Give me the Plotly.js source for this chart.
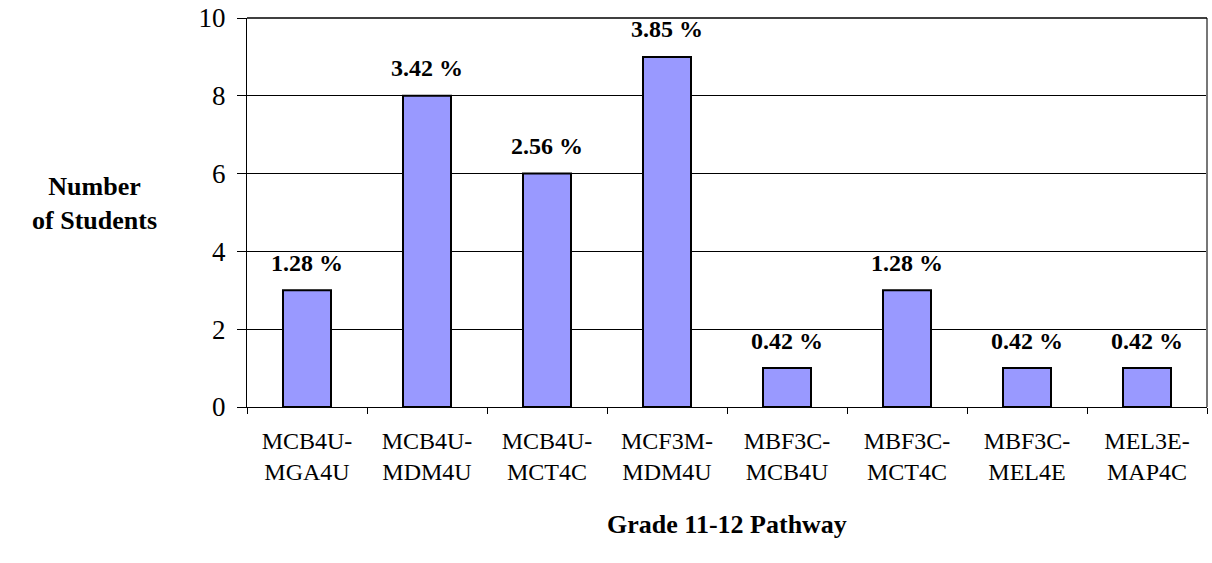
<!DOCTYPE html>
<html>
<head>
<meta charset="utf-8">
<script src="https://cdn.plot.ly/plotly-3.0.1.min.js"></script>
<style>
html,body{margin:0;padding:0;background:#fff;}
#chart{width:1212px;height:563px;}
</style>
</head>
<body>
<div id="chart"></div>
<script>
const categories = ["MCB4U-<br>MGA4U","MCB4U-<br>MDM4U","MCB4U-<br>MCT4C","MCF3M-<br>MDM4U","MBF3C-<br>MCB4U","MBF3C-<br>MCT4C","MBF3C-<br>MEL4E","MEL3E-<br>MAP4C"];
const students = [3, 8, 6, 9, 1, 3, 1, 1];
const percentLabels = ["1.28 %","3.42 %","2.56 %","3.85 %","0.42 %","1.28 %","0.42 %","0.42 %"];
const yTicks = [0, 2, 4, 6, 8, 10];

const FONT = "Liberation Serif";

const bars = {
  type: "bar",
  x: categories,
  y: students,
  width: 0.4,
  marker: {color: "#9999FF", line: {color: "#000", width: 2}},
  hoverinfo: "none"
};

const labels = {
  type: "scatter",
  mode: "markers+text",
  x: categories,
  y: students,
  text: percentLabels,
  texttemplate: "<b>%{text}</b>",
  textposition: "top center",
  cliponaxis: false,
  textfont: {family: FONT, size: 24, color: "#000"},
  marker: {size: 20, color: "rgba(0,0,0,0)"},
  hoverinfo: "none"
};

const layout = {
  width: 1212, height: 563,
  margin: {l: 247, r: 5, t: 18, b: 156},
  paper_bgcolor: "#fff", plot_bgcolor: "#fff",
  showlegend: false,
  font: {family: FONT, color: "#000"},
  title: {
    text: "<b>Number<br>of Students</b>",
    font: {family: FONT, size: 26, color: "#000"},
    xref: "container", yref: "container",
    x: 0.078, y: 0.654, xanchor: "center", yanchor: "middle"
  },
  xaxis: {
    type: "category",
    range: [-0.5, 7.5],
    showgrid: false,
    showline: true, linecolor: "#000", linewidth: 1,
    ticks: "outside", ticklen: 6, tickcolor: "#000", tickwidth: 1,
    tickson: "boundaries",
    ticklabelstandoff: 12,
    tickfont: {family: FONT, size: 24, color: "#000"},
    title: {text: "<b>Grade 11-12 Pathway</b>", font: {family: FONT, size: 26, color: "#000"}, standoff: 30},
    automargin: false
  },
  yaxis: {
    range: [0, 10],
    tickvals: yTicks,
    showgrid: true, gridcolor: "#000", gridwidth: 1,
    showline: true, linecolor: "#000", linewidth: 1,
    ticks: "outside", ticklen: 9, tickcolor: "#000",
    ticklabelstandoff: 6,
    tickfont: {family: FONT, size: 27, color: "#000"},
    zeroline: false,
    automargin: false
  },
  shapes: [
    {type: "line", xref: "paper", yref: "paper", x0: 1, x1: 1, y0: 0, y1: 1, line: {color: "#777", width: 2}},
    {type: "line", xref: "paper", yref: "paper", x0: 0, x1: 1, y0: 1, y1: 1, line: {color: "#000", width: 1.5}}
  ]
};

Plotly.newPlot("chart", [bars, labels], layout, {displayModeBar: false, staticPlot: true});
</script>
</body>
</html>
